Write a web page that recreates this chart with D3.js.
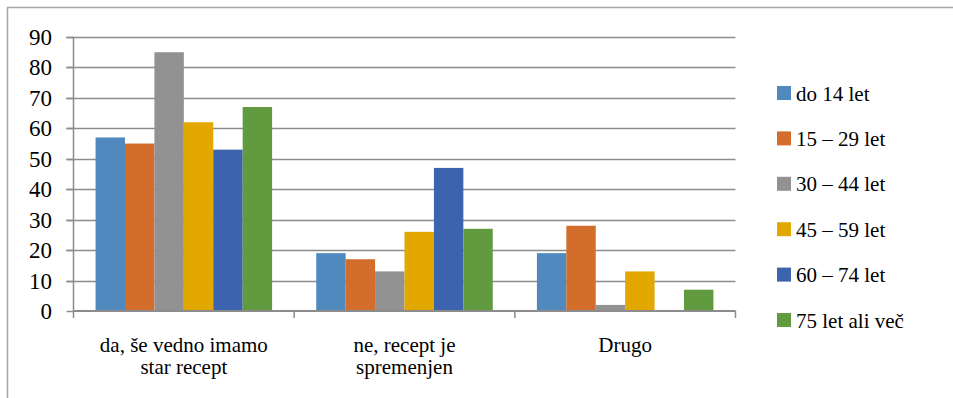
<!DOCTYPE html>
<html>
<head>
<meta charset="utf-8">
<script src="https://cdn.jsdelivr.net/npm/d3@7"></script>
<style>
  html, body { margin: 0; padding: 0; background: #fff; font-family: "Liberation Serif"; }
</style>
</head>
<body>
<svg id="chart" width="953" height="398" style="font-family: 'Liberation Serif'; font-size: 21px;">
  <style>
    text { font-family: "Liberation Serif"; font-size: 21px; fill: #000; }
    text.ytick { font-size: 23px; }
  </style>
</svg>
<script>
// Answer categories (x axis), two-line labels
const categories = ["da, še vedno imamo star recept", "ne, recept je spremenjen", "Drugo"];
const categoryLines = [["da, še vedno imamo", "star recept"], ["ne, recept je", "spremenjen"], ["Drugo"]];

// Age groups (series)
const series = ["do 14 let", "15 – 29 let", "30 – 44 let", "45 – 59 let", "60 – 74 let", "75 let ali več"];
const colors = ["#4f89bd", "#d26d2b", "#929292", "#e2a800", "#3c63ad", "#629a3f"];

// Values per series, in category order
const doDo14 = [57, 19, 19];
const od15do29 = [55, 17, 28];
const od30do44 = [85, 13, 2];
const od45do59 = [62, 26, 13];
const od60do74 = [53, 47, 0];
const od75 = [67, 27, 7];
const values = [doDo14, od15do29, od30do44, od45do59, od60do74, od75];

const yTicks = [0, 10, 20, 30, 40, 50, 60, 70, 80, 90];

const svg = d3.select("#chart");

// outer frame
svg.append("rect")
  .attr("x", 7.5).attr("y", 7.5)
  .attr("width", 950).attr("height", 400)
  .attr("fill", "none").attr("stroke", "#a6a6a6").attr("stroke-width", 1.5);

const plot = { left: 73.5, right: 735.5, top: 37, bottom: 311 };

const x0 = d3.scaleBand().domain(categories).range([plot.left, plot.right]).padding(0);
const x1 = d3.scaleBand().domain(series)
  .range([x0.bandwidth() * 0.1, x0.bandwidth() * 0.9]).padding(0);
const y = d3.scaleLinear().domain([0, 90]).range([plot.bottom, plot.top]);

// gridlines
svg.append("g")
  .selectAll("line").data(yTicks.slice(1)).join("line")
  .attr("x1", plot.left - 7).attr("x2", plot.right)
  .attr("y1", d => Math.round(y(d)) + 0.5).attr("y2", d => Math.round(y(d)) + 0.5)
  .attr("stroke", "#8c8c8c").attr("stroke-width", 1.5);

// bars
svg.append("g").selectAll("g").data(categories).join("g")
  .attr("transform", c => `translate(${x0(c)},0)`)
  .selectAll("rect")
  .data((c, ci) => series.map((s, si) => ({ s, si, v: values[si][ci] })))
  .join("rect")
  .attr("x", d => x1(d.s))
  .attr("width", x1.bandwidth())
  .attr("y", d => y(d.v))
  .attr("height", d => y(0) - y(d.v))
  .attr("fill", d => colors[d.si]);

// y axis: line, ticks and labels
svg.append("line")
  .attr("x1", plot.left).attr("x2", plot.left)
  .attr("y1", plot.top).attr("y2", plot.bottom)
  .attr("stroke", "#8c8c8c").attr("stroke-width", 1.5);
svg.append("g").selectAll("line").data(yTicks).join("line")
  .attr("x1", plot.left - 7).attr("x2", plot.left)
  .attr("y1", d => Math.round(y(d)) + 0.5).attr("y2", d => Math.round(y(d)) + 0.5)
  .attr("stroke", "#8c8c8c").attr("stroke-width", 1.5);
svg.append("g").selectAll("text").data(yTicks).join("text")
  .attr("class", "ytick")
  .attr("x", 52).attr("y", d => y(d) + 8)
  .attr("text-anchor", "end")
  .attr("font-family", "Liberation Serif")
  .attr("font-size", 23)
  .text(d => d);

// x axis
svg.append("line")
  .attr("x1", plot.left).attr("x2", plot.right)
  .attr("y1", plot.bottom).attr("y2", plot.bottom)
  .attr("stroke", "#8c8c8c").attr("stroke-width", 2);
const boundaries = categories.map(c => x0(c)).concat([x0(categories[categories.length - 1]) + x0.bandwidth()]);
svg.append("g").selectAll("line").data(boundaries).join("line")
  .attr("x1", d => d).attr("x2", d => d)
  .attr("y1", plot.bottom).attr("y2", plot.bottom + 7)
  .attr("stroke", "#8c8c8c").attr("stroke-width", 1.5);

// category labels
categories.forEach((c, ci) => {
  const cx = x0(c) + x0.bandwidth() / 2;
  categoryLines[ci].forEach((line, li) => {
    svg.append("text")
      .attr("x", cx)
      .attr("y", 352 + li * 22)
      .attr("text-anchor", "middle")
      .attr("font-family", "Liberation Serif")
      .attr("font-size", 21)
      .text(line);
  });
});

// legend
const ly = d3.scalePoint().domain(series).range([93, 320]);
svg.append("g").selectAll("rect").data(series).join("rect")
  .attr("x", 777).attr("y", d => ly(d) - 7)
  .attr("width", 14).attr("height", 14)
  .attr("fill", (d, i) => colors[i]);
svg.append("g").selectAll("text").data(series).join("text")
  .attr("x", 796).attr("y", d => ly(d) + 7.5)
  .attr("font-family", "Liberation Serif")
  .attr("font-size", 21)
  .text(d => d);
</script>
</body>
</html>
